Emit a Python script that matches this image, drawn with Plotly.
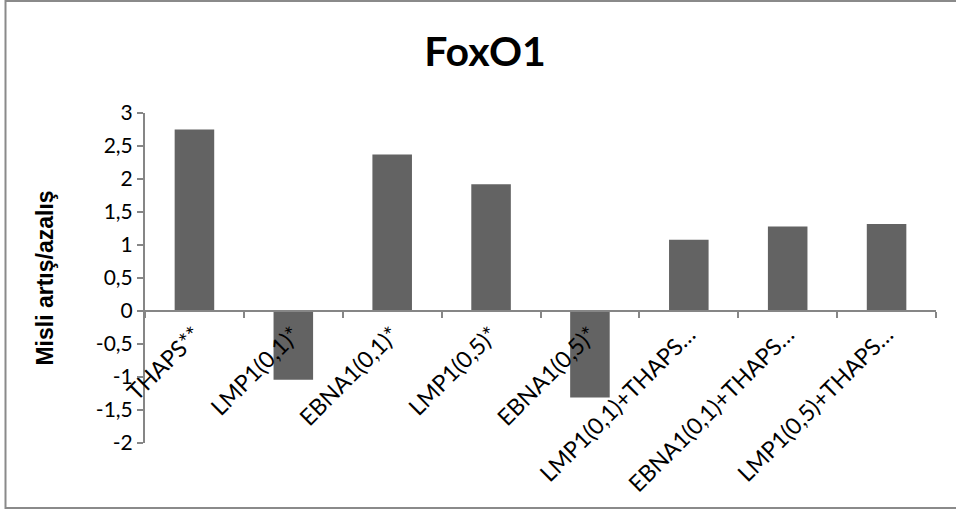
import plotly.graph_objects as go

# FoxO1 fold change per treatment group
categories = [
    "THAPS**",
    "LMP1(0,1)*",
    "EBNA1(0,1)*",
    "LMP1(0,5)*",
    "EBNA1(0,5)*",
    "LMP1(0,1)+THAPS…",
    "EBNA1(0,1)+THAPS…",
    "LMP1(0,5)+THAPS…",
]
fold_change = [2.75, -1.04, 2.37, 1.92, -1.31, 1.08, 1.28, 1.32]

y_tick_vals = [-2, -1.5, -1, -0.5, 0, 0.5, 1, 1.5, 2, 2.5, 3]
y_tick_text = ["-2", "-1,5", "-1", "-0,5", "0", "0,5", "1", "1,5", "2", "2,5", "3"]

W, H = 956, 510
ML, MR, MT, MB = 145, 20, 113, 67
axis_grey = "#868686"
font_family = "Lato, 'Open Sans', sans-serif"

fig = go.Figure(
    go.Bar(
        x=categories,
        y=fold_change,
        marker=dict(color="#636363", line=dict(width=0)),
        hoverinfo="x+y",
    )
)

y_min, y_max = y_tick_vals[0], y_tick_vals[-1]
zero_pos = (0 - y_min) / (y_max - y_min)

plot_w = W - ML - MR
plot_h = H - MT - MB


def px_to_paper_x(px):
    return (px - ML) / plot_w


def px_to_paper_y(py):
    return (H - MB - py) / plot_h


fig.update_layout(
    width=W,
    height=H,
    margin=dict(l=ML, r=MR, t=MT, b=MB),
    paper_bgcolor="white",
    plot_bgcolor="white",
    showlegend=False,
    bargap=0.6,
    font=dict(family=font_family, color="black"),
    title=dict(
        text="<b>FoxO1</b>",
        x=485 / W,
        xref="container",
        y=1 - 52 / H,
        yref="container",
        xanchor="center",
        yanchor="middle",
        font=dict(family=font_family, size=41, color="black"),
    ),
    xaxis=dict(
        type="category",
        anchor="free",
        position=zero_pos,
        showline=True,
        linecolor=axis_grey,
        linewidth=2,
        ticks="outside",
        tickson="boundaries",
        ticklen=6,
        tickwidth=2,
        tickcolor=axis_grey,
        tickangle=-45,
        tickfont=dict(family=font_family, size=23, color="black"),
        showgrid=False,
        zeroline=False,
    ),
    yaxis=dict(
        range=[y_min, y_max],
        tickvals=y_tick_vals,
        ticktext=y_tick_text,
        showline=True,
        linecolor=axis_grey,
        linewidth=2,
        ticks="outside",
        ticklen=6,
        tickwidth=2,
        tickcolor=axis_grey,
        tickfont=dict(family=font_family, size=21, color="black"),
        showgrid=False,
        zeroline=False,
        title=dict(
            text="<b>Misli artış/azalış</b>",
            font=dict(family="'Liberation Sans', Arial, sans-serif", size=23, color="black"),
            standoff=36,
        ),
    ),
    shapes=[
        dict(
            type="rect",
            xref="paper",
            yref="paper",
            x0=px_to_paper_x(5.5),
            x1=px_to_paper_x(W + 5),
            y0=px_to_paper_y(508),
            y1=px_to_paper_y(1),
            line=dict(color="#8a8a8a", width=2),
            fillcolor="rgba(0,0,0,0)",
            layer="below",
        )
    ],
)

fig.write_html("out.html")
